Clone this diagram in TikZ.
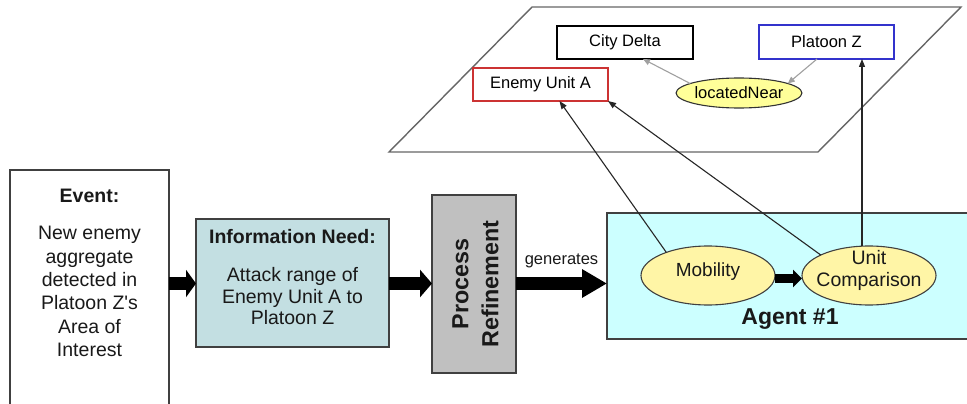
\documentclass[tikz,border=0pt]{standalone}
\usepackage{fontspec}
\setmainfont{Liberation Sans}
\usetikzlibrary{shapes.geometric,arrows.meta,calc}
\definecolor{infofill}{HTML}{C3DFE2}
\definecolor{agentfill}{HTML}{CCFFFF}
\definecolor{procfill}{HTML}{C0C0C0}
\definecolor{ovalfill}{HTML}{FFF5A6}
\definecolor{nearfill}{HTML}{FFFF99}
\definecolor{edgegray}{HTML}{404040}
\definecolor{unitred}{HTML}{CC3333}
\definecolor{unitblue}{HTML}{3333CC}
\definecolor{linkgray}{HTML}{A0A0A0}
\begin{document}
\begin{tikzpicture}[x=1pt,y=-1pt,
  box/.style={draw=edgegray, line width=1.1pt, outer sep=0pt, inner sep=0pt},
  tag/.style={draw, line width=1.1pt, outer sep=0pt, inner sep=0pt,
    minimum height=33pt, font=\fontsize{16.5}{19}\selectfont},
  oval/.style={ellipse, draw=edgegray, line width=1.1pt, outer sep=0pt,
    inner sep=0pt, fill=ovalfill},
  bodytext/.style={align=center, text=black!90},
  fat/.style={line width=13pt, -{Triangle[length=#1,width=27pt]}},
  link/.style={draw=black!85, line width=1.1pt, -{Triangle[length=8pt,width=6pt]}},
  graylink/.style={draw=linkgray, line width=1.1pt, -{Triangle[length=7pt,width=6pt]}},
  plane/.style={draw=black!60, line width=1.4pt, line join=miter}]

\clip (0,0) rectangle (967,404);
\fill[white] (0,0) rectangle (967,404);

% ontology plane
\draw[plane] (532,7) -- (961,7) -- (818,152) -- (389,152) -- cycle;

\node[tag, draw=black, minimum width=136pt] (cd) at (625,42.5) {City Delta};
\node[tag, draw=unitblue, minimum width=135pt, minimum height=34pt] (pz) at (826.5,42) {Platoon Z};
\node[tag, draw=unitred, minimum width=135pt] (ena) at (540.5,84.5) {Enemy Unit A};
\node[oval, draw=black!80, fill=nearfill, minimum width=122pt, minimum height=30pt,
  font=\fontsize{16.5}{19}\selectfont] (ln) at (739,93) {locatedNear};

\draw[graylink] (ln.169) -- ([xshift=18pt]cd.south);
\draw[graylink] ([xshift=-9.5pt]pz.south) -- (ln.11);

% processing chain
\coordinate (row) at (0,283.5);
\node[box, minimum width=159pt, minimum height=260pt] (ev) at (89.5,300) {};
\node[bodytext, font=\fontsize{19.5}{23.4}\selectfont] (evtext) at (89.5,273)
  {\textbf{Event:}\\[13.6pt]New enemy\\aggregate\\detected in\\Platoon Z\textquotesingle s\\Area of\\Interest};

\node[box, fill=infofill, minimum width=193pt, minimum height=128pt] (info) at (292.5,283) {};
\node[bodytext, font=\fontsize{19.5}{21.5}\selectfont] (infotext) at (292.5,277.5)
  {\textbf{Information Need:}\\[16.5pt]Attack range of\\Enemy Unit A to\\Platoon Z};

\node[box, fill=procfill, minimum width=84pt, minimum height=178pt] (proc) at (474,284) {};
\node[bodytext, rotate=90, font=\fontsize{23.3}{30}\selectfont\bfseries] (proctext) at (475.5,284)
  {Process\\Refinement};

\node[box, draw=edgegray, fill=agentfill, minimum width=380pt, minimum height=126pt,
  anchor=north west] (agent) at (607,213) {};
\node[font=\fontsize{23}{27}\selectfont\bfseries, text=black!90] (agtext) at (790,319) {Agent \#1};

\node[oval, minimum width=134pt, minimum height=59pt] (mob) at (708,275.5) {};
\node[bodytext, font=\fontsize{19}{22}\selectfont] (mobtext) at (708,271.7) {Mobility};
\node[oval, minimum width=134pt, minimum height=59pt] (uc) at (869,275.5) {};
\node[bodytext, font=\fontsize{19.5}{22}\selectfont] (uctext) at (869,270.5) {Unit\\Comparison};

% block arrows
\draw[fat=10pt] (ev.east |- row) -- (info.west |- row);
\draw[fat=12pt] (info.east |- row) -- (proc.west |- row);
\draw[fat=25pt] (proc.east |- row) -- (agent.west |- row)
  node[midway, yshift=23pt, font=\fontsize{16.5}{19}\selectfont, text=black!90] {generates};
\draw[line width=9pt, -{Triangle[length=9pt,width=17pt]}]
  ([yshift=-3pt]mob.east) -- ([yshift=-3pt]uc.west);

% references from the agent's services to the plane
\draw[link] (mob.151) -- (ena.-41.7);
\draw[link] (uc.157) -- (ena.south east);
\draw[link] ([xshift=-7pt]uc.north) -- ([xshift=-7pt]uc.north |- pz.south);

\end{tikzpicture}
\end{document}
